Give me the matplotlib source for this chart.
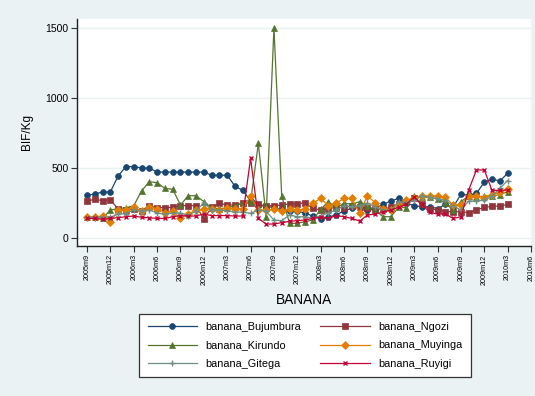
import matplotlib.pyplot as plt

# monthly banana prices (BIF/Kg), 2005m9 .. 2010m3
start_year, start_month = 2005, 9

bujumbura = [305, 314, 329, 329, 443, 510, 510, 500, 500, 471, 471, 471, 471, 471, 471, 471, 448, 448, 448,
             370, 340, 265, 236, 224, 219, 200, 195, 190, 180, 155, 136, 150, 165, 195, 212, 220, 200, 205,
             240, 264, 283, 250, 230, 224, 224, 210, 240, 220, 312, 305, 320, 398, 421, 407, 462]
ngozi = [264, 276, 267, 274, 207, 200, 210, 195, 231, 217, 217, 219, 231, 231, 231, 136, 219, 248, 236,
         236, 248, 250, 240, 230, 230, 236, 243, 243, 252, 212, 200, 210, 220, 217, 230, 224, 215, 210,
         205, 220, 240, 260, 283, 240, 207, 202, 188, 188, 188, 181, 200, 219, 226, 228, 240]
kirundo = [148, 148, 140, 200, 210, 217, 230, 336, 402, 395, 355, 348, 236, 302, 302, 260, 215, 210, 215,
           230, 252, 260, 676, 150, 1500, 300, 105, 105, 117, 129, 205, 260, 212, 250, 240, 260, 230, 200,
           152, 152, 219, 217, 300, 290, 290, 280, 250, 200, 260, 300, 290, 300, 300, 310, 331]
muyinga = [148, 152, 157, 114, 200, 200, 219, 195, 219, 210, 180, 190, 140, 171, 200, 207, 210, 200, 215,
           210, 210, 300, 200, 200, 205, 195, 205, 200, 205, 248, 283, 230, 250, 283, 283, 176, 302, 252,
           210, 200, 236, 271, 283, 300, 300, 300, 290, 236, 236, 302, 302, 288, 310, 326, 348]
gitega = [148, 148, 150, 148, 171, 175, 200, 190, 200, 179, 171, 179, 179, 160, 195, 250, 200, 200, 195,
          185, 185, 176, 200, 190, 129, 124, 164, 152, 152, 140, 160, 180, 200, 230, 225, 230, 250, 220,
          200, 200, 260, 250, 270, 302, 290, 280, 270, 230, 200, 264, 264, 271, 300, 355, 410]
ruyigi = [140, 140, 133, 140, 145, 152, 157, 148, 145, 140, 140, 152, 160, 157, 157, 171, 160, 160, 160,
          157, 157, 569, 140, 100, 100, 110, 119, 124, 129, 140, 150, 140, 160, 152, 140, 121, 164, 171,
          185, 200, 219, 240, 295, 240, 183, 171, 171, 140, 152, 343, 486, 486, 340, 340, 343]

y_ticks = [0, 500, 1000, 1500]


def month_label(i):
    m = start_month - 1 + i
    return f"{start_year + m // 12}m{m % 12 + 1}"


# Stata s2color palette
series = [
    ("banana_Bujumbura", bujumbura, "#1A476F", "o", 4.2),
    ("banana_Ngozi", ngozi, "#90353B", "s", 3.8),
    ("banana_Kirundo", kirundo, "#55752F", "^", 4.4),
    ("banana_Muyinga", muyinga, "#E37E00", "D", 3.8),
    ("banana_Gitega", gitega, "#6E8E84", "+", 4.5),
    ("banana_Ruyigi", ruyigi, "#C10534", "x", 3.5),
]

bg = "#EAF2F3"
fig = plt.figure(figsize=(5.35, 3.96), dpi=100, facecolor=bg)
ax = fig.add_axes([77 / 535, 1 - 246 / 396, 454 / 535, 227 / 396])
ax.set_facecolor("white")

handles = {}
for name, vals, color, marker, ms in series:
    x = list(range(len(vals)))
    line, = ax.plot(x, vals, color=color, lw=0.9, marker=marker, markersize=ms,
                    markeredgewidth=1.0 if marker in "+x" else 0.5, zorder=3)
    handles[name] = line

ax.set_xlim(-1.28, 57)
ax.set_ylim(-57, 1564)

ax.set_yticks(y_ticks)
ax.set_yticklabels([str(v) for v in y_ticks], fontsize=7.5, family="Liberation Sans")
ax.yaxis.grid(True, color=bg, lw=1.0, zorder=0)

xt = list(range(0, 58, 3))
ax.set_xticks(xt)
ax.set_xticklabels([month_label(i) for i in xt], rotation=90, fontsize=5.2,
                   family="Liberation Sans")
ax.tick_params(axis="both", length=4, width=0.8, color="#333333", pad=2)

for side in ["top", "right"]:
    ax.spines[side].set_visible(False)
for side in ["left", "bottom"]:
    ax.spines[side].set_color("#222222")
    ax.spines[side].set_linewidth(1.0)

ax.set_ylabel("BIF/Kg", fontsize=8.5, family="Liberation Sans")
ax.yaxis.set_label_coords(-0.097, 0.5)
ax.set_xlabel("BANANA", fontsize=9.8, family="Liberation Sans")
ax.xaxis.set_label_coords(0.5, -0.238)
ax.xaxis.label.set_va("center")

# two columns: left Bujumbura/Kirundo/Gitega, right Ngozi/Muyinga/Ruyigi
order = ["banana_Bujumbura", "banana_Kirundo", "banana_Gitega",
         "banana_Ngozi", "banana_Muyinga", "banana_Ruyigi"]
leg = fig.legend([handles[n] for n in order], order, ncol=2, loc="center",
                 bbox_to_anchor=(305 / 535, 1 - 345.5 / 396),
                 prop={"family": "Liberation Sans", "size": 7.8},
                 handlelength=4.6, handletextpad=0.75, columnspacing=1.75,
                 labelspacing=0.78, borderpad=0.75, fancybox=False,
                 frameon=True, edgecolor="#333333", framealpha=1)
leg.get_frame().set_linewidth(0.9)

fig.savefig("out.png", dpi=100, facecolor=bg)
